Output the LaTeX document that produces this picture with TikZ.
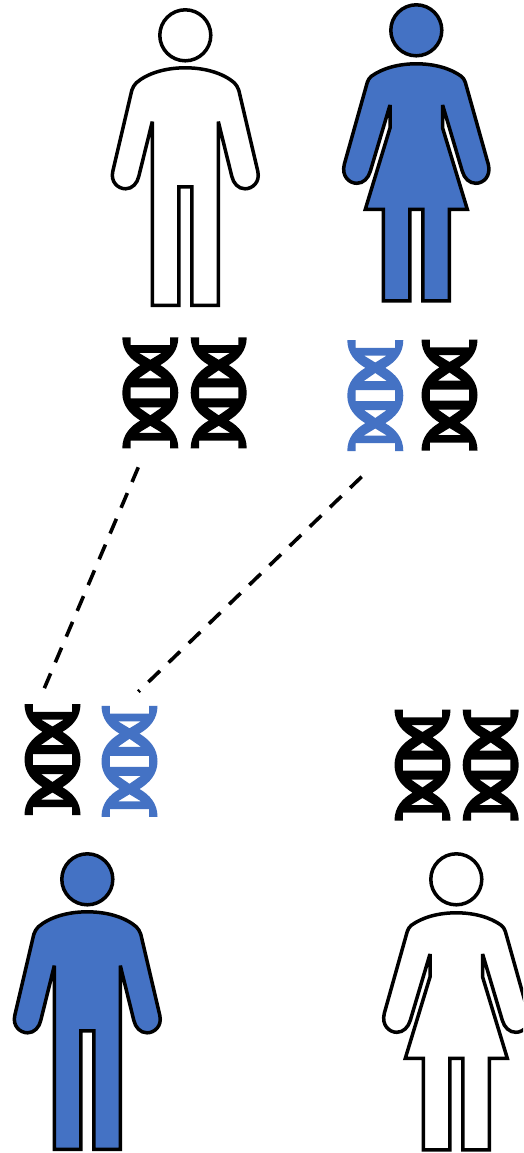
\documentclass[tikz,border=0pt]{standalone}
\definecolor{figblue}{HTML}{4472C4}
\tikzset{
  outline/.style={draw=black,line width=3.5pt,line join=miter,miter limit=4},
  link/.style={draw=black,line width=3.6pt,dash pattern=on 16pt off 12pt},
  pics/man/.style={code={
    \path[outline,fill=#1] (0,0) circle[radius=25.5pt];
    \path[outline,fill=#1] (0,32.5) .. controls (20,32.5) and (38,38) .. (49,47.5)
      .. controls (51,49.5) and (52.5,52) .. (53.5,55) -- (72.5,136)
      .. controls (75,147) and (67,153.5) .. (59.7,153.5)
      .. controls (53,153.5) and (48,148) .. (46.5,141) -- (33,86.3) -- (33,270) -- (6.5,270)
      -- (6.5,151.5) -- (-6.5,151.5) -- (-6.5,270) -- (-33,270) -- (-33,86.3) -- (-46.5,141)
      .. controls (-48,148) and (-53,153.5) .. (-59.7,153.5)
      .. controls (-67,153.5) and (-75,147) .. (-72.5,136) -- (-53.5,55)
      .. controls (-52.5,52) and (-51,49.5) .. (-49,47.5)
      .. controls (-38,38) and (-20,32.5) .. (0,32.5) -- cycle;
  }},
  pics/woman/.style={code={
    \path[outline,fill=#1] (0,0) circle[radius=25.5pt];
    \path[outline,fill=#1] (0,33.5) .. controls (18,33.5) and (34,38) .. (45,46)
      .. controls (47,47.5) and (48,49.5) .. (49,52) -- (72,134)
      .. controls (75,146) and (67,153) .. (59.5,153)
      .. controls (53,153) and (48,148) .. (46,141) -- (26.3,74.7) -- (26.3,97.7) -- (51,179)
      -- (33,179) -- (33,270.5) -- (6.5,270.5) -- (6.5,179) -- (-6.5,179) -- (-6.5,270.5)
      -- (-33,270.5) -- (-33,179) -- (-51,179) -- (-26.3,97.7) -- (-26.3,74.7) -- (-46,141)
      .. controls (-48,148) and (-53,153) .. (-59.5,153)
      .. controls (-67,153) and (-75,146) .. (-72,134) -- (-49,52)
      .. controls (-48,49.5) and (-47,47.5) .. (-45,46)
      .. controls (-34,38) and (-18,33.5) .. (0,33.5) -- cycle;
  }},
  pics/dna/.style={code={
    \fill[#1,even odd rule]
      (-28,-55.5) -- (-19.7,-55.5) -- (-19.7,-47.7) -- (19.7,-47.7) -- (19.7,-55.5) -- (28,-55.5)
      .. controls (28,-42) and (20,-33.5) .. (10,-27.7)
      .. controls (20,-21.5) and (28,-13) .. (28,0)
      .. controls (28,13) and (20,21.5) .. (10,27.7)
      .. controls (20,33.5) and (28,42) .. (28,55.5)
      -- (19.7,55.5) -- (19.7,47.7) -- (-19.7,47.7) -- (-19.7,55.5) -- (-28,55.5)
      .. controls (-28,42) and (-20,33.5) .. (-10,27.7)
      .. controls (-20,21.5) and (-28,13) .. (-28,0)
      .. controls (-28,-13) and (-20,-21.5) .. (-10,-27.7)
      .. controls (-20,-33.5) and (-28,-42) .. (-28,-55.5) -- cycle
      (-11.5,-40) -- (11.5,-40) -- (0,-33) -- cycle
      (0,-22.5) -- (11.5,-14.5) -- (-11.5,-14.5) -- cycle
      (-19.7,-5.5) -- (19.7,-5.5) -- (19.7,5.5) -- (-19.7,5.5) -- cycle
      (-11.5,14.5) -- (11.5,14.5) -- (0,22.5) -- cycle
      (0,33) -- (11.5,40) -- (-11.5,40) -- cycle;
  }}
}
\begin{document}
\begin{tikzpicture}[x=1pt,y=-1pt]
\useasboundingbox (0,0) rectangle (523,1153);
\clip (0,0) rectangle (523,1153);
\fill[white] (0,0) rectangle (523,1153);

\pic (father) at (185.3,35.3) {man=white};
\pic (mother) at (416.3,30.3) {woman=figblue};
\pic (son) at (87.3,879.3) {man=figblue};
\pic (daughter) at (456.3,879.3) {woman=white};

\pic (fa) at (150.3,392.8) {dna=black};
\pic (fb) at (218.7,392.8) {dna=black};
\pic (ma) at (375.3,395.5) {dna=figblue};
\pic (mb) at (449.5,395) {dna=black};
\pic (sa) at (52.5,759.5) {dna=black};
\pic (sb) at (129.5,761.3) {dna=figblue};
\pic (da) at (422.5,765) {dna=black};
\pic (db) at (490.7,765) {dna=black};

\coordinate (fatherOut) at (138.3,467.3);
\coordinate (sonIn) at (44.3,688.3);
\coordinate (motherOut) at (361.7,476.7);
\coordinate (sonInB) at (138.3,691.7);
\draw[link] (fatherOut) -- (sonIn);
\draw[link] (motherOut) -- (sonInB);
\end{tikzpicture}
\end{document}
